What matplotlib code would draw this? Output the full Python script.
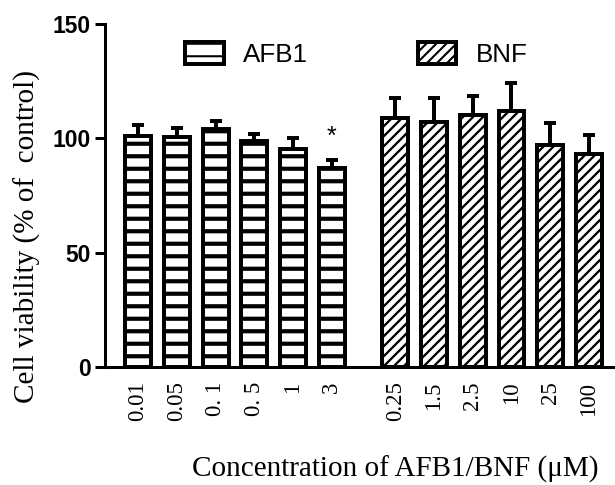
import numpy as np
import matplotlib
matplotlib.use("Agg")
import matplotlib.pyplot as plt

# ── data ─────────────────────────────────────────────────
afb1_labels = ["0.01", "0.05", "0. 1", "0. 5", "1", "3"]
afb1_mean = [101, 100.5, 104, 99, 95.5, 87]
afb1_err = [5, 4, 3.5, 3, 4.5, 3.5]

bnf_labels = ["0.25", "1.5", "2.5", "10", "25", "100"]
bnf_mean = [109, 107, 110, 112, 97, 93]
bnf_err = [8.5, 10.5, 8.5, 12, 9.5, 8.5]

yticks = [0, 50, 100, 150]

# ── layout ───────────────────────────────────────────────
DPI = 150
GAP = 1.64          # extra space between the two groups
WIDTH = 0.67

SERIF = ["Liberation Serif", "DejaVu Serif"]
SANS = ["Liberation Sans", "DejaVu Sans"]

plt.rcParams["hatch.color"] = "black"

fig = plt.figure(figsize=(615 / DPI, 485 / DPI), dpi=DPI)
ax = fig.add_axes([105 / 615, 1 - 367 / 485, 510 / 615, 343 / 485])

x_afb1 = np.arange(len(afb1_mean))
x_bnf = np.arange(len(bnf_mean)) + len(afb1_mean) + GAP - 1


def draw_bars(xs, means, errs, hatch, hatch_lw, label):
    with plt.rc_context({"hatch.linewidth": hatch_lw}):
        bars = ax.bar(xs, means, WIDTH, color="white", edgecolor="black",
                      linewidth=1.9, hatch=hatch, label=label, zorder=3)
    for b in bars:
        if hasattr(b, "set_hatch_linewidth"):
            b.set_hatch_linewidth(hatch_lw)
    ax.errorbar(xs, means, yerr=[np.zeros(len(errs)), errs], fmt="none",
                ecolor="black", elinewidth=1.9, capsize=3.1, capthick=1.9,
                zorder=2)
    return bars


draw_bars(x_afb1, afb1_mean, afb1_err, "--", 2.0, "AFB1")
draw_bars(x_bnf, bnf_mean, bnf_err, "/////", 1.1, "BNF")

# significance mark
ax.text(x_afb1[-1], afb1_mean[-1] + afb1_err[-1] + 5, "*", ha="center",
        va="bottom", fontsize=12, family=SANS)

ax.set_xlim(-0.853, x_bnf[-1] + 0.672)
ax.set_ylim(0, 150)
ax.set_yticks(yticks)
ax.set_yticklabels([str(v) for v in yticks], fontsize=11,
                   fontweight="bold", family=SANS)

ax.set_xticks(np.concatenate([x_afb1, x_bnf]))
ax.set_xticklabels(afb1_labels + bnf_labels, rotation=90, fontsize=11,
                   family=SERIF, va="top")
ax.tick_params(axis="x", length=0, pad=7)
ax.tick_params(axis="y", length=4.8, width=1.45, pad=2)

for s in ["top", "right"]:
    ax.spines[s].set_visible(False)
for s in ["left", "bottom"]:
    ax.spines[s].set_linewidth(1.45)

ax.set_ylabel("Cell viability (% of  control)", fontsize=14, family=SERIF)
ax.yaxis.set_label_coords(-0.125, 0.38)
ax.set_xlabel("Concentration of AFB1/BNF (\u03bcM)", fontsize=14, family=SERIF)
ax.xaxis.set_label_coords(0.569, -0.258)

ax.legend(loc="center left", bbox_to_anchor=(0.157, 0.91), ncol=2,
          frameon=False, borderpad=0, borderaxespad=0,
          handlelength=1.48, handleheight=0.92, handletextpad=0.75,
          columnspacing=4.2, prop={"family": SANS, "size": 12.5})

fig.savefig("out.png", dpi=DPI)
